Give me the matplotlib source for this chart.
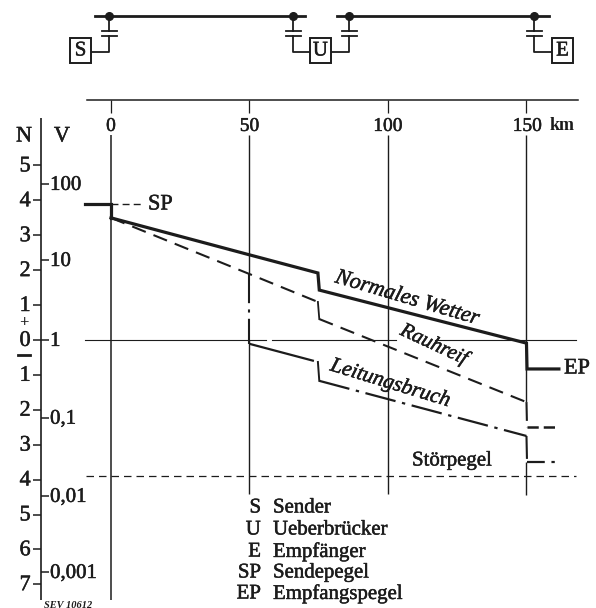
import matplotlib
matplotlib.use('Agg')
import matplotlib.pyplot as plt
import matplotlib.patheffects as pe

plt.rcParams['font.family'] = ['Liberation Serif', 'DejaVu Serif']
ink = '#1c1c1c'
heavy = [pe.withStroke(linewidth=0.35, foreground=ink)]  # scan makes the letters a bit fatter

# Level curves: km along the line, level in Neper
normal_km = [0, 50, 74.7, 75.2, 150, 150.2, 161.7]
normal_n = [3.5, 2.44, 1.92, 1.43, -0.09, -0.83, -0.83]
rauh_km = [0, 50, 74.7, 75.2, 150, 150.2, 161.7]
rauh_n = [3.5, 1.89, 1.09, 0.6, -1.78, -2.5, -2.5]
bruch_km = [50, 74.7, 75.2, 150, 150.2, 161.7]
bruch_n = [-0.11, -0.63, -1.17, -2.75, -3.5, -3.5]
sp_km = [-9.4, 0, 0]
sp_n = [3.9, 3.9, 3.5]
stoer_n = -3.9

km_ticks = [0, 50, 100, 150]
km_labels = ['0', '50', '100', '150']
n_ticks = [5, 4, 3, 2, 1, 0, -1, -2, -3, -4, -5, -6, -7]
v_ticks = [4.47, 2.29, 0, -2.23, -4.47, -6.65]
v_labels = ['100', '10', '1', '0,1', '0,01', '0,001']

legend_abbr = ['S', 'U', 'E', 'SP', 'EP']
legend_names = ['Sender', 'Ueberbrücker', 'Empfänger', 'Sendepegel', 'Empfangspegel']

fig = plt.figure(figsize=(5.96, 6.08), dpi=100)

# main axes fills the figure, km and Neper map onto the page
ax = fig.add_axes([0, 0, 1, 1])
ax.set_xlim(-40.07, 175.1)
ax.set_ylim(-7.679, 9.742)
ax.axis('off')

# page axes in pixels, for the schematic and the lettering
pg = fig.add_axes([0, 0, 1, 1])
pg.set_xlim(0, 596)
pg.set_ylim(608, 0)
pg.axis('off')
pg.patch.set_alpha(0)

# grid verticals, 50 km is left open where the broken curve runs down it
ax.vlines(0, -7.45, 5.87, color=ink, lw=1.1)
ax.vlines(50, -4.4, 0, color=ink, lw=1.0)
ax.vlines(50, 1.89, 5.87, color=ink, lw=1.0)
ax.vlines(100, -4.4, 5.87, color=ink, lw=1.0)
ax.vlines(150, -1.78, 5.87, color=ink, lw=1.0)
ax.vlines(150, -4.45, -3.5, color=ink, lw=1.0)

# zero line, broken where Rauhreif is lettered
ax.plot([-9.4, 56], [0, 0], color=ink, lw=0.8)
ax.plot([58, 103], [0, 0], color=ink, lw=0.8)
ax.plot([117, 168], [0, 0], color=ink, lw=0.8)

# noise level
ax.plot([-9.2, 168], [stoer_n, stoer_n], color=ink, lw=0.9, ls=(0, (6, 4)))

# curves
dash = (0, (7, 4))
dashdot = (0, (14, 3, 1.5, 3))
ax.plot(normal_km, normal_n, color=ink, lw=2.3, solid_joinstyle='miter')

ax.plot(rauh_km[:3], rauh_n[:3], color=ink, lw=1.5, ls=dash)
ax.plot(rauh_km[2:4], rauh_n[2:4], color=ink, lw=1.3)
ax.plot(rauh_km[3:5], rauh_n[3:5], color=ink, lw=1.5, ls=dash)
ax.plot(rauh_km[4:6], rauh_n[4:6], color=ink, lw=1.5, ls=(0, (9, 3)))
ax.plot(rauh_km[5:], rauh_n[5:], color=ink, lw=1.8, ls=(0, (4.5, 2)))

ax.plot(bruch_km[:2], bruch_n[:2], color=ink, lw=1.6, ls=(0, (30, 3, 1.5, 3)))
ax.plot(bruch_km[1:3], bruch_n[1:3], color=ink, lw=1.4)
ax.plot(bruch_km[2:4], bruch_n[2:4], color=ink, lw=1.6, ls=dashdot)
ax.plot(bruch_km[3:5], bruch_n[3:5], color=ink, lw=1.5, ls=(0, (11, 2)))
ax.plot(bruch_km[4:], bruch_n[4:], color=ink, lw=1.6, ls=(0, (8, 3, 1.5, 3)))

ax.plot([50, 50], [1.89, -0.11], color=ink, lw=1.5, ls=dashdot)
ax.plot(sp_km, sp_n, color=ink, lw=2.3, solid_joinstyle='miter')
ax.plot([0, 11], [3.9, 3.9], color=ink, lw=1.0, ls=(0, (5, 3)))

# km axis on top
ax.plot([-8.7, 168.5], [6.88, 6.88], color=ink, lw=1.1)
ax.vlines(km_ticks, 6.5, 6.88, color=ink, lw=0.9)
for k, lab in zip(km_ticks, km_labels):
    x = k if k != 150 else 150.3
    ax.text(x, 6.12, lab, ha='center', va='center', fontsize=14, color=ink, path_effects=heavy)
pg.text(550, 125, 'km', ha='left', va='center', fontsize=13, color=ink, weight='bold')

# N and V scales
ax.vlines(-25.3, -7.45, 6.36, color=ink, lw=1.2)
ax.hlines(n_ticks, -28.2, -25.3, color=ink, lw=1.1)
ax.hlines(v_ticks, -25.3, -22.3, color=ink, lw=1.1)
for n in n_ticks:
    ax.text(-29, n - 0.04, str(abs(n)), ha='right', va='center', fontsize=16, color=ink, path_effects=heavy)
for v, lab in zip(v_ticks, v_labels):
    ax.text(-22, v - 0.04, lab, ha='left', va='center', fontsize=15, color=ink, path_effects=heavy)
pg.text(24, 137, 'N', ha='center', va='center', fontsize=16, color=ink, path_effects=heavy)
pg.text(62, 137, 'V', ha='center', va='center', fontsize=16, color=ink, path_effects=heavy)
pg.text(24, 323, '+', ha='center', va='center', fontsize=12, color=ink, weight='bold')
pg.plot([18, 30], [355, 355], color=ink, lw=2)

# curve lettering
pg.text(148, 205, 'SP', ha='left', va='center', fontsize=16, color=ink, path_effects=heavy)
pg.text(564, 369, 'EP', ha='left', va='center', fontsize=16, color=ink, path_effects=heavy)
pg.text(407, 299, 'Normales Wetter', ha='center', va='center', rotation=-16.5, rotation_mode='anchor',
        fontsize=16, color=ink, style='italic', path_effects=heavy)
pg.text(434, 345, 'Rauhreif', ha='center', va='center', rotation=-25, rotation_mode='anchor',
        fontsize=15, color=ink, style='italic', path_effects=heavy)
pg.text(390, 384, 'Leitungsbruch', ha='center', va='center', rotation=-17, rotation_mode='anchor',
        fontsize=15.5, color=ink, style='italic', path_effects=heavy)
pg.text(452, 461, 'Störpegel', ha='center', va='center', fontsize=15, color=ink, path_effects=heavy)

# legend block
legend_y = [508, 530, 552, 573, 594]
for y, a, name in zip(legend_y, legend_abbr, legend_names):
    pg.text(261, y, a, ha='right', va='center', fontsize=15, color=ink, path_effects=heavy)
    pg.text(273, y, name, ha='left', va='center', fontsize=15, color=ink, path_effects=heavy)
pg.text(44, 605, 'SEV 10612', ha='left', va='center', fontsize=7.5, color=ink, style='italic', weight='bold')

# schematic: line sections, couplers, terminal boxes
pg.plot([95, 305], [16, 16], color=ink, lw=2.0)
pg.plot([337, 549], [16, 16], color=ink, lw=2.0)
tap_x = [109, 293, 349, 534]
pg.plot(tap_x, [16] * 4, 'o', color=ink, ms=5.5)
for x in tap_x:
    pg.plot([x, x], [16, 31], color=ink, lw=1.3)
    pg.plot([x - 7.5, x + 7.5], [31, 31], color=ink, lw=1.3)
    pg.plot([x - 7.5, x + 7.5], [36, 36], color=ink, lw=1.3)
    pg.plot([x, x, x + (-18 if x in (109, 349) else 18)], [36, 52, 52], color=ink, lw=1.3)
for x0, letter in [(70, 'S'), (310, 'U'), (552, 'E')]:
    pg.add_patch(plt.Rectangle((x0, 38), 21, 25, fill=True, fc='white', ec=ink, lw=1.4, zorder=3))
    pg.text(x0 + 10.5, 51, letter, ha='center', va='center', fontsize=15, color=ink, zorder=4, path_effects=heavy)

fig.savefig('out.png', dpi=100)
